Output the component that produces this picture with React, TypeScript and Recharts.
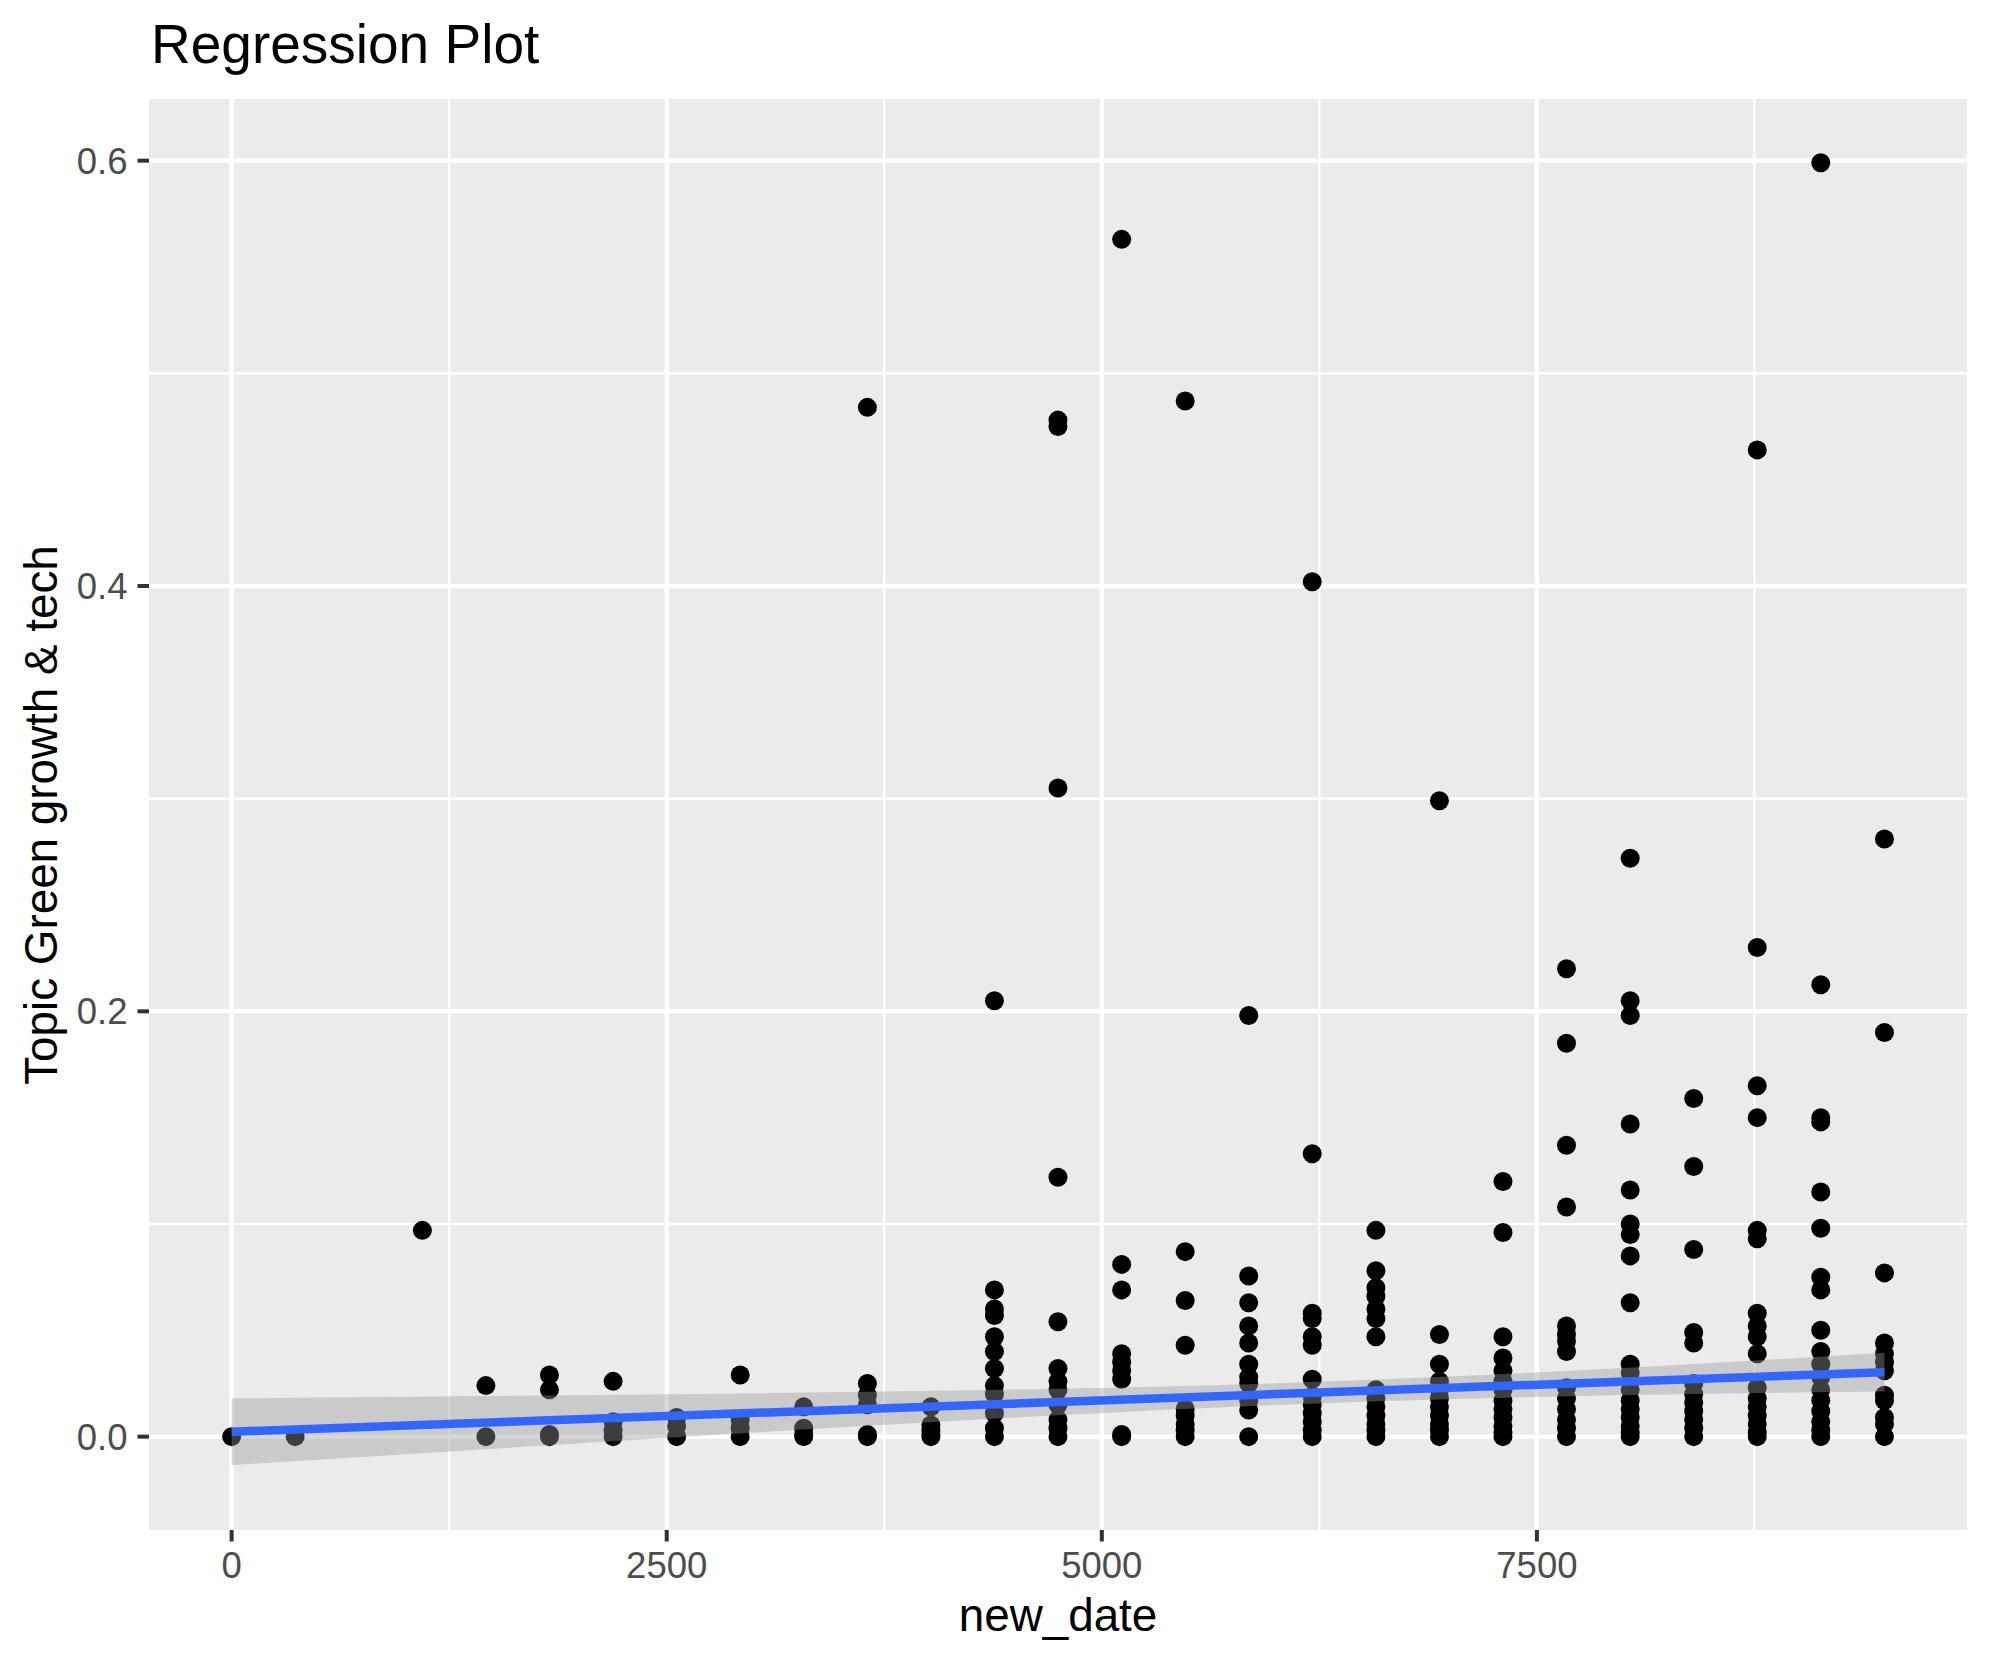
import React from 'react';
import { ComposedChart, Scatter, Line, Area, XAxis, YAxis, CartesianGrid } from 'recharts';

// ---- data ----
const newDate = [0, 365, 1096, 1461, 1826, 2192, 2557, 2922, 3287, 3653, 4018, 4383, 4748, 5114, 5479, 5844, 6209, 6575, 6940, 7305, 7670, 8036, 8401, 8766, 9131, 9497];

const topicValues: number[][] = [
  [0],
  [0],
  [0.097],
  [0.024, 0],
  [0.029, 0.022, 0.001, 0],
  [0.026, 0.007, 0.003, 0],
  [0.009, 0.005, 0],
  [0.029, 0.008, 0.004, 0],
  [0.014, 0.004, 0.001, 0],
  [0.484, 0.025, 0.0195, 0.015, 0.001, 0],
  [0.014, 0.0055, 0.003, 0.001, 0],
  [0.205, 0.069, 0.06, 0.057, 0.047, 0.04, 0.032, 0.024, 0.02, 0.011, 0.004, 0],
  [0.478, 0.475, 0.305, 0.122, 0.054, 0.032, 0.026, 0.022, 0.015, 0.008, 0.004, 0],
  [0.563, 0.081, 0.069, 0.039, 0.035, 0.031, 0.027, 0.001, 0],
  [0.487, 0.087, 0.064, 0.043, 0.013, 0.01, 0.006, 0.003, 0],
  [0.198, 0.0755, 0.063, 0.052, 0.044, 0.034, 0.028, 0.025, 0.017, 0.0125, 0],
  [0.402, 0.133, 0.058, 0.0555, 0.047, 0.043, 0.027, 0.019, 0.015, 0.011, 0.007, 0.003, 0],
  [0.097, 0.078, 0.07, 0.066, 0.06, 0.0555, 0.047, 0.022, 0.018, 0.014, 0.01, 0.006, 0.003, 0],
  [0.299, 0.048, 0.034, 0.026, 0.022, 0.018, 0.014, 0.01, 0.006, 0.003, 0],
  [0.12, 0.096, 0.047, 0.037, 0.031, 0.026, 0.022, 0.017, 0.013, 0.009, 0.005, 0.002, 0],
  [0.22, 0.185, 0.137, 0.108, 0.052, 0.048, 0.045, 0.04, 0.023, 0.018, 0.013, 0.008, 0.004, 0],
  [0.272, 0.205, 0.198, 0.147, 0.116, 0.1, 0.095, 0.085, 0.063, 0.034, 0.03, 0.022, 0.017, 0.013, 0.009, 0.005, 0.002, 0],
  [0.159, 0.127, 0.088, 0.049, 0.044, 0.025, 0.02, 0.016, 0.012, 0.008, 0.004, 0],
  [0.464, 0.23, 0.165, 0.15, 0.097, 0.093, 0.058, 0.052, 0.047, 0.039, 0.023, 0.018, 0.014, 0.01, 0.006, 0.002, 0],
  [0.599, 0.2125, 0.15, 0.148, 0.115, 0.098, 0.075, 0.069, 0.05, 0.04, 0.034, 0.028, 0.022, 0.017, 0.012, 0.007, 0.003, 0],
  [0.281, 0.19, 0.077, 0.044, 0.039, 0.035, 0.031, 0.0195, 0.017, 0.009, 0.006, 0],
];

const fitDates = [0, 9497];
const fitValues = [0.0023, 0.0303];

const bandDates = [0, 1187, 2374, 3561, 4748, 5935, 7122, 8309, 9497];
const bandLower = [-0.0134, -0.0073, -0.0012, 0.0046, 0.0101, 0.0147, 0.0179, 0.0199, 0.0212];
const bandUpper = [0.018, 0.0189, 0.0198, 0.021, 0.0225, 0.0249, 0.0287, 0.0337, 0.0394];

const xTicks = [0, 2500, 5000, 7500];
const xMinorTicks = [1250, 3750, 6250, 8750];
const yTicks = [0, 0.2, 0.4, 0.6];
const yMinorTicks = [0.1, 0.3, 0.5];

const title = 'Regression Plot';
const xTitle = 'new_date';
const yTitle = 'Topic Green growth & tech';

// ---- derived tables ----
const points = newDate.flatMap((d, i) => topicValues[i].map((v) => ({ x: d, y: v })));
const fitLine = fitDates.map((d, i) => ({ x: d, y: fitValues[i] }));
const band = bandDates.map((d, i) => ({ x: d, band: [bandLower[i], bandUpper[i]] }));

const FONT = '"Liberation Sans", Arial, Helvetica, sans-serif';
const W = 1990;
const H = 1665;

const Dot = (props: any) => {
  if (props.cx == null || props.cy == null) return null;
  return <circle cx={props.cx} cy={props.cy} r={9.5} fill="#000000" />;
};

export default function App() {
  return (
    <div style={{ position: 'absolute', left: 0, top: 0, width: W, height: H, background: '#ffffff' }}>
      <ComposedChart width={W} height={H} margin={{ top: 99, right: 23, left: 0, bottom: 0 }}>
        <CartesianGrid
          fill="#EBEBEB"
          stroke="#ffffff"
          strokeWidth={2.2}
          horizontalValues={yMinorTicks}
          verticalValues={xMinorTicks}
        />
        <CartesianGrid
          fill="none"
          stroke="#ffffff"
          strokeWidth={4.4}
          horizontalValues={yTicks}
          verticalValues={xTicks}
        />
        <XAxis
          type="number"
          dataKey="x"
          domain={[-474.8, 9971.3]}
          allowDataOverflow
          ticks={xTicks}
          height={135}
          axisLine={false}
          tickLine={{ stroke: '#333333', strokeWidth: 4 }}
          tickSize={11.5}
          tickMargin={11}
          tick={{ fill: '#4D4D4D', fontSize: 36.5, fontFamily: FONT }}
        />
        <YAxis
          type="number"
          dataKey="y"
          domain={[-0.0439, 0.629]}
          allowDataOverflow
          ticks={yTicks}
          width={149}
          axisLine={false}
          tickLine={{ stroke: '#333333', strokeWidth: 4 }}
          tickSize={11.5}
          tickMargin={10}
          tickFormatter={(v: number) => v.toFixed(1)}
          tick={{ fill: '#4D4D4D', fontSize: 36.5, fontFamily: FONT }}
        />
        <Scatter data={points} dataKey="y" shape={Dot} isAnimationActive={false} zIndex={600} />
        <Area
          data={band}
          dataKey="band"
          type="monotone"
          stroke="none"
          fill="#999999"
          fillOpacity={0.4}
          dot={false}
          activeDot={false}
          isAnimationActive={false}
          zIndex={700}
        />
        <Line
          data={fitLine}
          dataKey="y"
          type="linear"
          stroke="#3366FF"
          strokeWidth={8.5}
          dot={false}
          activeDot={false}
          isAnimationActive={false}
          zIndex={800}
        />
      </ComposedChart>
      <svg
        width={W}
        height={H}
        style={{ position: 'absolute', left: 0, top: 0, pointerEvents: 'none' }}
      >
        <text x={151} y={63} fontFamily={FONT} fontSize={55} fill="#000000">
          {title}
        </text>
        <text x={1058} y={1631} fontFamily={FONT} fontSize={45.8} fill="#000000" textAnchor="middle">
          {xTitle}
        </text>
        <text
          x={57}
          y={815}
          fontFamily={FONT}
          fontSize={45.8}
          fill="#000000"
          textAnchor="middle"
          transform="rotate(-90 57 815)"
        >
          {yTitle}
        </text>
      </svg>
    </div>
  );
}
